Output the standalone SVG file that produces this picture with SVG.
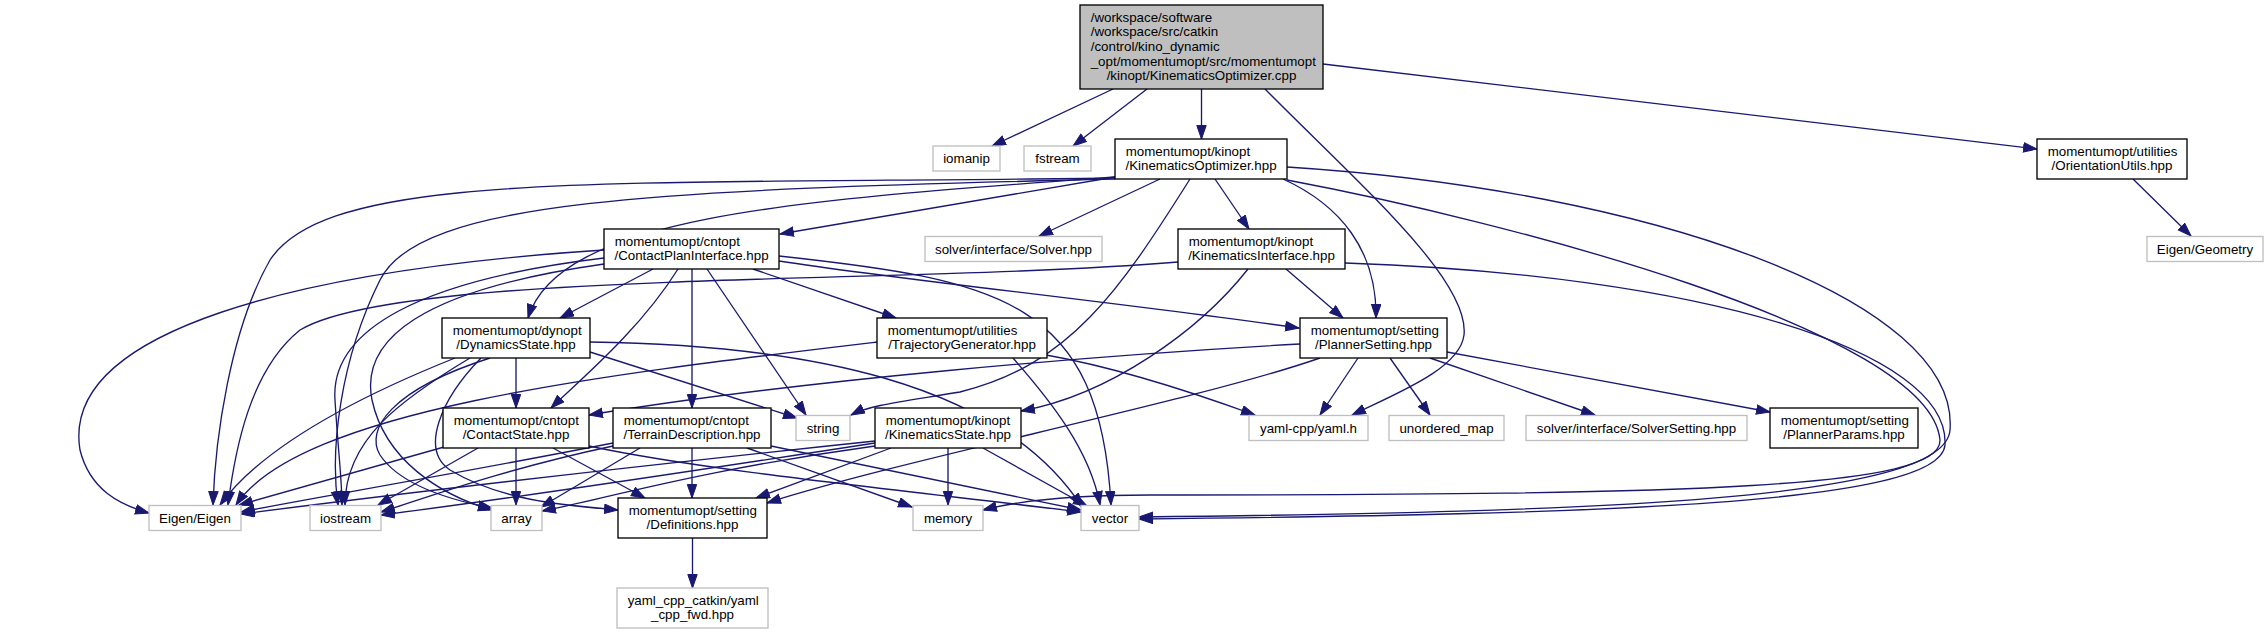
<svg xmlns="http://www.w3.org/2000/svg" width="2268" height="632" viewBox="0 0 2268 632">
<style>
text{font-family:"Liberation Sans",Arial,Helvetica,sans-serif;font-size:13.33px;fill:#000}
.m{text-anchor:middle}
.n rect{fill:#fff;stroke:#000;stroke-width:1.33}
.g rect{fill:#fff;stroke:#bfbfbf;stroke-width:1.33}
.r rect{fill:#bfbfbf;stroke:#000;stroke-width:1.33}
#edges path{fill:none;stroke:#191970;stroke-width:1.33;marker-end:url(#ah)}
</style>
<defs>
<marker id="ah" markerUnits="userSpaceOnUse" markerWidth="15" markerHeight="11" viewBox="0 0 15 11" refX="14" refY="5.2" orient="auto">
<path d="M0.5,0.5 L14,5.2 L0.5,9.9 Z" fill="#191970" stroke="#191970" stroke-width="1"/>
</marker>
</defs>
<rect width="2268" height="632" fill="#fff"/>
<g id="edges">
<path d="M1113,89 L992,146"/>
<path d="M1147,89 L1073,146"/>
<path d="M1201.5,89 L1201.5,139"/>
<path d="M1323,64 L2037,149"/>
<path d="M1265,89 C1360,185 1470,280 1464,335 C1460,368 1400,392 1352,415"/>
<path d="M2133,179 L2191,236"/>
<path d="M1115,177 L780,234"/>
<path d="M1160,179 L1039,236"/>
<path d="M1215,179 L1249,229"/>
<path d="M1283,179 C1340,205 1377,250 1376,318"/>
<path d="M1190,179 C1120,290 1070,365 960,392 C900,402 870,405 851,415"/>
<path d="M1115,177 C800,200 560,215 528,318"/>
<path d="M1115,178 C600,185 330,170 270,260 C230,330 215,440 213,505"/>
<path d="M1115,179 C650,190 420,200 380,280 C340,360 330,450 338,505"/>
<path d="M1287,167 C1650,190 1960,300 1950,430 C1945,500 1600,512 1139,517"/>
<path d="M1287,180 C1500,220 1930,330 1940,440 C1942,488 1700,495 1150,495 C1060,495 1010,503 983,510"/>
<path d="M1286,269 L1343,318"/>
<path d="M1248,269 C1200,330 1110,395 1021,411"/>
<path d="M1178,262 C900,285 400,270 300,330 C250,370 235,450 228,505"/>
<path d="M1345,263 C1700,275 1950,350 1945,445 C1940,505 1600,514 1139,519"/>
<path d="M653,269 L560,318"/>
<path d="M678,269 C640,330 580,380 551,408"/>
<path d="M692,269 L692,408"/>
<path d="M707,269 L806,415"/>
<path d="M753,269 L896,318"/>
<path d="M779,261 C900,280 1100,300 1299,328"/>
<path d="M779,256 C1000,280 1100,300 1111,505"/>
<path d="M604,250 C300,270 60,330 80,450 C90,490 120,505 149,513"/>
<path d="M604,258 C420,280 330,330 335,400 C338,450 342,480 342,505"/>
<path d="M604,264 C420,290 360,340 372,400 C385,460 440,495 492,510"/>
<path d="M516,358 L516,408"/>
<path d="M590,352 L797,418"/>
<path d="M590,342 C800,345 1000,380 1082,507"/>
<path d="M481,358 C440,400 420,450 450,470 C500,500 560,505 618,510"/>
<path d="M455,358 C350,400 260,450 220,505"/>
<path d="M470,358 C400,400 345,440 345,505"/>
<path d="M490,358 C390,390 365,430 380,455 C400,485 450,500 492,508"/>
<path d="M1046,355 C1120,368 1200,395 1255,415"/>
<path d="M1013,358 C1050,400 1090,450 1100,505"/>
<path d="M878,342 C600,375 300,410 236,505"/>
<path d="M1300,344 C1100,355 800,380 589,415"/>
<path d="M1320,358 C1200,400 900,460 767,503"/>
<path d="M1358,358 L1320,415"/>
<path d="M1390,358 L1430,415"/>
<path d="M1430,358 L1595,415"/>
<path d="M1447,352 L1770,412"/>
<path d="M516,448 L516,505"/>
<path d="M553,448 L645,498"/>
<path d="M478,448 L378,505"/>
<path d="M444,447 L239,505"/>
<path d="M589,446 C700,470 900,490 1081,512"/>
<path d="M692,448 L692,498"/>
<path d="M747,448 L912,507"/>
<path d="M771,446 L1081,510"/>
<path d="M613,443 C450,475 300,500 241,512"/>
<path d="M613,446 C500,470 420,500 381,512"/>
<path d="M640,448 L541,507"/>
<path d="M948,448 L948,505"/>
<path d="M983,448 L1087,506"/>
<path d="M891,448 L756,498"/>
<path d="M875,441 C600,470 350,500 241,514"/>
<path d="M875,443 C700,470 500,500 381,515"/>
<path d="M875,446 C700,470 600,500 542,511"/>
<path d="M692.5,538 L692.5,588"/>
</g>
<g id="n_root" class="r"><rect x="1080" y="5" width="243" height="84"/>
<text x="1090.7" y="21.5">/workspace/software</text>
<text x="1090.7" y="36.2">/workspace/src/catkin</text>
<text x="1090.7" y="50.9">/control/kino_dynamic</text>
<text x="1090.7" y="65.6">_opt/momentumopt/src/momentumopt</text>
<text class="m" x="1201.5" y="80.3">/kinopt/KinematicsOptimizer.cpp</text></g>
<g id="n_iomanip" class="g"><rect x="933" y="146" width="67" height="25"/><text class="m" x="966.5" y="163">iomanip</text></g>
<g id="n_fstream" class="g"><rect x="1024" y="146" width="67" height="25"/><text class="m" x="1057.5" y="163">fstream</text></g>
<g id="n_ko" class="n"><rect x="1115" y="139" width="172" height="40"/><text x="1125.7" y="155.5">momentumopt/kinopt</text><text class="m" x="1201" y="170.2">/KinematicsOptimizer.hpp</text></g>
<g id="n_ou" class="n"><rect x="2037" y="139" width="150" height="40"/><text x="2047.7" y="155.5">momentumopt/utilities</text><text class="m" x="2112" y="170.2">/OrientationUtils.hpp</text></g>
<g id="n_cpi" class="n"><rect x="604" y="229" width="175" height="40"/><text x="614.7" y="245.5">momentumopt/cntopt</text><text class="m" x="691.5" y="260.2">/ContactPlanInterface.hpp</text></g>
<g id="n_solver" class="g"><rect x="925" y="236.5" width="177" height="25"/><text class="m" x="1013.5" y="253.5">solver/interface/Solver.hpp</text></g>
<g id="n_ki" class="n"><rect x="1178" y="229" width="167" height="40"/><text x="1188.7" y="245.5">momentumopt/kinopt</text><text class="m" x="1261.5" y="260.2">/KinematicsInterface.hpp</text></g>
<g id="n_eg" class="g"><rect x="2147" y="236.5" width="116" height="25"/><text class="m" x="2205" y="253.5">Eigen/Geometry</text></g>
<g id="n_ds" class="n"><rect x="442" y="318" width="148" height="40"/><text x="452.7" y="334.5">momentumopt/dynopt</text><text class="m" x="516" y="349.2">/DynamicsState.hpp</text></g>
<g id="n_tg" class="n"><rect x="877" y="318" width="170" height="40"/><text x="887.7" y="334.5">momentumopt/utilities</text><text class="m" x="962" y="349.2">/TrajectoryGenerator.hpp</text></g>
<g id="n_ps" class="n"><rect x="1300" y="318" width="147" height="40"/><text x="1310.7" y="334.5">momentumopt/setting</text><text class="m" x="1373.5" y="349.2">/PlannerSetting.hpp</text></g>
<g id="n_cs" class="n"><rect x="443" y="408" width="146" height="40"/><text x="453.7" y="424.5">momentumopt/cntopt</text><text class="m" x="516" y="439.2">/ContactState.hpp</text></g>
<g id="n_td" class="n"><rect x="613" y="408" width="158" height="40"/><text x="623.7" y="424.5">momentumopt/cntopt</text><text class="m" x="692" y="439.2">/TerrainDescription.hpp</text></g>
<g id="n_string" class="g"><rect x="796" y="415.5" width="54" height="25"/><text class="m" x="823" y="432.5">string</text></g>
<g id="n_ks" class="n"><rect x="875" y="408" width="146" height="40"/><text x="885.7" y="424.5">momentumopt/kinopt</text><text class="m" x="948" y="439.2">/KinematicsState.hpp</text></g>
<g id="n_yaml" class="g"><rect x="1249" y="415.5" width="119" height="25"/><text class="m" x="1308.5" y="432.5">yaml-cpp/yaml.h</text></g>
<g id="n_umap" class="g"><rect x="1389" y="415.5" width="115" height="25"/><text class="m" x="1446.5" y="432.5">unordered_map</text></g>
<g id="n_ss" class="g"><rect x="1526" y="415.5" width="221" height="25"/><text class="m" x="1636.5" y="432.5">solver/interface/SolverSetting.hpp</text></g>
<g id="n_pp" class="n"><rect x="1770" y="408" width="148" height="40"/><text x="1780.7" y="424.5">momentumopt/setting</text><text class="m" x="1844" y="439.2">/PlannerParams.hpp</text></g>
<g id="n_ee" class="g"><rect x="149" y="505.5" width="92" height="25"/><text class="m" x="195" y="522.5">Eigen/Eigen</text></g>
<g id="n_iostream" class="g"><rect x="310" y="505.5" width="71" height="25"/><text class="m" x="345.5" y="522.5">iostream</text></g>
<g id="n_array" class="g"><rect x="491" y="505.5" width="51" height="25"/><text class="m" x="516.5" y="522.5">array</text></g>
<g id="n_def" class="n"><rect x="618" y="498" width="149" height="40"/><text x="628.7" y="514.5">momentumopt/setting</text><text class="m" x="692.5" y="529.2">/Definitions.hpp</text></g>
<g id="n_memory" class="g"><rect x="913" y="505.5" width="70" height="25"/><text class="m" x="948" y="522.5">memory</text></g>
<g id="n_vector" class="g"><rect x="1081" y="505.5" width="58" height="25"/><text class="m" x="1110" y="522.5">vector</text></g>
<g id="n_ycc" class="g"><rect x="617" y="588" width="151" height="40"/><text x="627.7" y="604.5">yaml_cpp_catkin/yaml</text><text class="m" x="692.5" y="619.2">_cpp_fwd.hpp</text></g>
</svg>
